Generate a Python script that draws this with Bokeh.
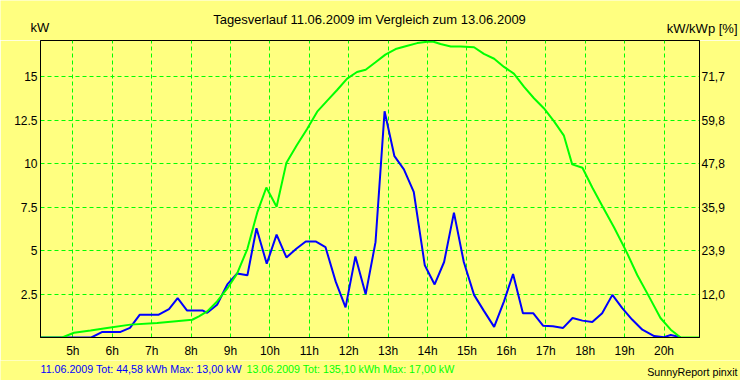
from bokeh.plotting import figure
from bokeh.layouts import column
from bokeh.models import LinearAxis, FixedTicker, Label, Range1d
from bokeh.embed import file_html
from bokeh.resources import INLINE

# ---- data (hours of day, kW) ----
blue_h = [4.18, 5.47, 5.75, 6.21, 6.45, 6.70, 7.18, 7.44, 7.66, 7.90, 8.30, 8.41, 8.66, 8.92,
          9.17, 9.43, 9.66, 9.92, 10.17, 10.42, 10.67, 10.91, 11.16, 11.41, 11.67, 11.92,
          12.17, 12.43, 12.68, 12.91, 13.16, 13.40, 13.65, 13.93, 14.18, 14.42, 14.67, 14.92,
          15.18, 15.43, 15.69, 15.94, 16.17, 16.42, 16.68, 16.93, 17.18, 17.44, 17.68, 17.93,
          18.18, 18.43, 18.69, 18.94, 19.19, 19.45, 19.75, 20.00, 20.17, 20.42]
blue_kw = [0, 0, 0.32, 0.32, 0.55, 1.31, 1.31, 1.63, 2.26, 1.55, 1.55, 1.42, 1.88, 3.05,
           3.68, 3.58, 6.28, 4.24, 5.91, 4.60, 5.10, 5.52, 5.52, 5.20, 3.21, 1.73,
           4.66, 2.48, 5.48, 13.0, 10.42, 9.66, 8.37, 4.15, 3.05, 4.34, 7.18, 4.34,
           2.45, 1.53, 0.61, 2.08, 3.65, 1.40, 1.40, 0.68, 0.65, 0.55, 1.12, 0.97,
           0.89, 1.40, 2.45, 1.69, 1.03, 0.45, 0.08, 0.02, 0.14, 0.02]

green_h = [4.18, 4.73, 5.03, 5.45, 5.87, 6.46, 7.14, 8.03, 8.20, 8.41, 8.66, 8.92, 9.17, 9.43,
           9.68, 9.91, 10.17, 10.42, 10.69, 10.94, 11.20, 11.45, 11.70, 11.96, 12.21, 12.43,
           12.68, 12.93, 13.19, 13.49, 13.74, 13.99, 14.15, 14.33, 14.59, 14.84, 15.18, 15.43,
           15.69, 15.94, 16.19, 16.45, 16.70, 16.95, 17.21, 17.46, 17.67, 17.93, 18.18, 18.43,
           18.73, 19.03, 19.32, 19.62, 19.91, 20.17, 20.42, 20.90]
green_kw = [0, 0, 0.27, 0.40, 0.55, 0.74, 0.84, 1.02, 1.21, 1.50, 2.07, 2.82, 3.68, 5.10,
            7.19, 8.62, 7.52, 10.05, 11.08, 11.97, 12.98, 13.60, 14.21, 14.88, 15.26, 15.39,
            15.82, 16.26, 16.58, 16.77, 16.92, 17.0, 17.0, 16.87, 16.73, 16.73, 16.68, 16.30,
            16.02, 15.55, 15.17, 14.40, 13.75, 13.18, 12.42, 11.60, 9.95, 9.76, 8.62, 7.57,
            6.34, 5.01, 3.59, 2.35, 1.12, 0.45, 0, 0]

x_ticks = [5, 6, 7, 8, 9, 10, 11, 12, 13, 14, 15, 16, 17, 18, 19, 20]
x_labels = ["5h", "6h", "7h", "8h", "9h", "10h", "11h", "12h", "13h", "14h", "15h",
            "16h", "17h", "18h", "19h", "20h"]
y_ticks = [2.5, 5, 7.5, 10, 12.5, 15]
y_labels = ["2.5", "5", "7.5", "10", "12.5", "15"]
pct_labels = ["12,0", "23,9", "35,9", "47,8", "59,8", "71,7"]

title_text = "Tagesverlauf 11.06.2009 im Vergleich zum 13.06.2009"
left_unit = "kW"
right_unit = "kW/kWp [%]"
blue_text = "11.06.2009 Tot: 44,58 kWh Max: 13,00 kW"
green_text = "13.06.2009 Tot: 135,10 kWh Max: 17,00 kW"
credit_text = "SunnyReport pinxit"

BG = "#FFFF80"
BLUE = "#0000FF"
GREEN = "#00FF00"
FONT = "Liberation Sans"
W = 740


def strip(h):
    f = figure(width=W, height=h, x_range=Range1d(0, 1), y_range=Range1d(0, 1),
               output_backend="svg", toolbar_location=None, title_location=None,
               x_axis_type=None, y_axis_type=None, min_border=0, frame_align=False,
               background_fill_color=BG, border_fill_color=BG, outline_line_color=None)
    f.xgrid.visible = False
    f.ygrid.visible = False
    return f


def lab(fig, x, y, text, size, color="black", align="left"):
    fig.add_layout(Label(x=x, y=y, x_units="screen", y_units="screen", text=text,
                         text_font=FONT, text_font_size=size, text_color=color,
                         text_align=align, text_baseline="middle"))


# ---- header ----
head = strip(40)
lab(head, 369, 21, title_text, "13px", align="center")
lab(head, 30, 13, left_unit, "13px")
lab(head, 737, 12, right_unit, "13px", align="right")

# ---- main chart ----
p = figure(width=W, height=320,
           x_range=Range1d(4.18, 20.9), y_range=Range1d(0, 17.07),
           output_backend="svg", toolbar_location=None, title_location=None,
           min_border_left=40, min_border_right=41, min_border_top=0, min_border_bottom=20,
           background_fill_color=BG, border_fill_color=BG,
           outline_line_color="black", outline_line_width=1)

xt = FixedTicker(ticks=x_ticks)
yt = FixedTicker(ticks=y_ticks)

p.xaxis.ticker = xt
p.xaxis.major_label_overrides = dict(zip(x_ticks, x_labels))
p.yaxis.ticker = yt
p.yaxis.major_label_overrides = dict(zip(y_ticks, y_labels))
p.xgrid.ticker = xt
p.ygrid.ticker = yt

right = LinearAxis(ticker=FixedTicker(ticks=y_ticks),
                   major_label_overrides=dict(zip(y_ticks, pct_labels)))
p.add_layout(right, "right")

for ax in [p.xaxis[0], p.yaxis[0], right]:
    ax.major_tick_out = 0
    ax.major_tick_in = 0
    ax.minor_tick_out = 0
    ax.minor_tick_in = 0
    ax.axis_line_color = "black"
    ax.major_label_text_font = FONT
    ax.major_label_text_font_size = "12px"
    ax.major_label_text_color = "black"
p.xaxis.major_label_standoff = 6
p.yaxis.major_label_standoff = 3
right.major_label_standoff = 2

for g in [p.xgrid[0], p.ygrid[0]]:
    g.grid_line_color = GREEN
    g.grid_line_dash = "4 3"
    g.grid_line_width = 1

p.line(blue_h, blue_kw, line_color=BLUE, line_width=2)
p.line(green_h, green_kw, line_color=GREEN, line_width=2)

# ---- footer ----
foot = strip(20)
lab(foot, 40, 12, blue_text, "10.7px", color=BLUE)
lab(foot, 246, 12, green_text, "10.7px", color=GREEN)
lab(foot, 737, 9, credit_text, "10.7px", align="right")

layout = column(head, p, foot, spacing=0)

open("out.html", "w").write(file_html(layout, INLINE))
